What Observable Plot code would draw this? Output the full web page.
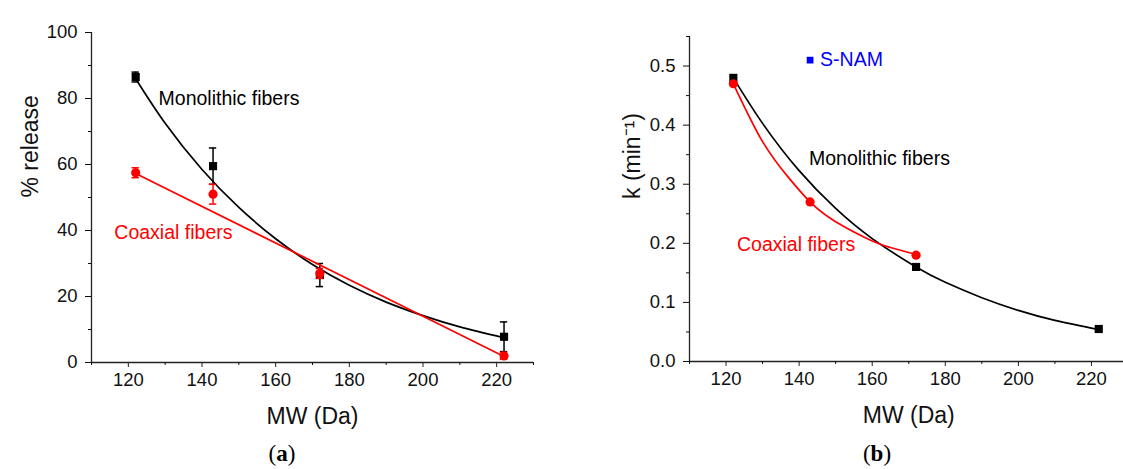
<!DOCTYPE html>
<html><head><meta charset="utf-8">
<script src="https://cdn.jsdelivr.net/npm/d3@7"></script>
<script src="https://cdn.jsdelivr.net/npm/@observablehq/plot@0.6"></script>
<style>
html,body{margin:0;padding:0;background:#fff;overflow:hidden;}
#wrap{position:relative;width:1123px;height:469px;overflow:hidden;}
.panel{position:absolute;top:0;width:560px;}
.panel svg{max-width:none !important;}
.cap{position:absolute;font-family:"Liberation Serif","DejaVu Serif",serif;font-size:23px;color:#000;transform:translateX(-50%);line-height:1;}
</style></head><body>
<div id="wrap">
  <div id="pa" class="panel" style="left:0px"></div>
  <div id="pb" class="panel" style="left:600px"></div>
  <div class="cap" style="left:282px;top:442px">(<b>a</b>)</div>
  <div class="cap" style="left:877px;top:442px">(<b>b</b>)</div>
</div>
<script>
// ---- data ----
const mw = [122, 143, 172, 222];
// panel (a): % release
const monoRelease = [86.5, 59.5, 26.5, 7.8];
const monoReleaseErr = [1.5, 5.5, 3.5, 4.5];
const coaxRelease = [57.5, 51, 27, 2];
const coaxReleaseErr = [1.5, 3, 1.5, 1];
// fitted curves of (a)
const monoFitAx = [122, 130, 140, 150, 160, 170, 180, 190, 200, 210, 222];
const monoFitAy = [86, 72.5, 58.5, 47, 37.5, 29.7, 23.4, 18.3, 14.2, 10.8, 7.5];
const coaxFitAx = [122, 222];
const coaxFitAy = [57.3, 1.8];
// panel (b): rate constant k
const monoKmw = [122, 172, 222];
const monoK = [0.48, 0.16, 0.055];
const coaxKmw = [122, 143, 172];
const coaxK = [0.47, 0.27, 0.18];
const monoFitBx = [122, 130, 140, 150, 160, 172, 180, 190, 200, 210, 222];
const monoFitBy = [0.48, 0.403, 0.323, 0.259, 0.208, 0.16, 0.134, 0.108, 0.0865, 0.0695, 0.054];
const coaxFitBx = [122, 130, 137, 143, 150, 160, 165, 172];
const coaxFitBy = [0.47, 0.372, 0.312, 0.27, 0.2365, 0.204, 0.193, 0.181];
const legendB = {mw: 143, k: 0.51, label: "S-NAM"};
// labels
const xMajor = [120, 140, 160, 180, 200, 220];
const xMinor = [110, 130, 150, 170, 190, 210, 230];
const yMajorA = [0, 20, 40, 60, 80, 100];
const yMinorA = [10, 30, 50, 70, 90];
const yMajorB = [0, 0.1, 0.2, 0.3, 0.4, 0.5];
const yMinorB = [0.05, 0.15, 0.25, 0.35, 0.45, 0.55];
const xTitle = "MW (Da)";
const yTitleA = "% release";
const yTitleB = "k (min\u207B\u00B9)";
const annA = [{x: 128.2, y: 80, t: "Monolithic fibers", c: "#000"}, {x: 116.2, y: 39.4, t: "Coaxial fibers", c: "#ff0000"}];
const annB = [{x: 142.7, y: 0.343, t: "Monolithic fibers", c: "#000"}, {x: 123, y: 0.198, t: "Coaxial fibers", c: "#ff0000"}];

const zip = (xs, ys, es) => xs.map((x, i) => ({x, y: ys[i], e: es ? es[i] : 0}));
const RED = "#ff0000", BLK = "#000";
const font = "Liberation Sans, Arial, sans-serif";

function axes(yMajor, yMinor, yFmt, yTitle, yOff) {
  return [
    Plot.ruleY([0], {stroke: "#222", strokeWidth: 1.3}),
    Plot.ruleX([110], {stroke: "#222", strokeWidth: 1.3}),
    Plot.axisX({ticks: xMajor, tickSize: 5, tickPadding: 5, label: null, fontSize: 18.5, stroke: "#222"}),
    Plot.axisX({ticks: xMinor, tickSize: 3, tickFormat: () => "", label: null}),
    Plot.axisY({ticks: yMajor, tickSize: 6, tickPadding: 8, label: null, fontSize: 18.5, tickFormat: yFmt}),
    Plot.axisY({ticks: yMinor, tickSize: 3, tickFormat: () => "", label: null}),
    Plot.text([xTitle], {frameAnchor: "bottom", lineAnchor: "top", dy: 45, fontSize: 23, fill: "#111"}),
    Plot.text([yTitle], {frameAnchor: "left", lineAnchor: "top", rotate: -90, dx: -yOff, fontSize: 23, fill: "#111"})
  ];
}

function errBars(data, color) {
  return [
    Plot.ruleX(data, {x: "x", y1: d => d.y - d.e, y2: d => d.y + d.e, stroke: color, strokeWidth: 1.5}),
    Plot.ruleY(data, {y: d => d.y + d.e, x1: d => d.x - 1, x2: d => d.x + 1, stroke: color, strokeWidth: 1.5}),
    Plot.ruleY(data, {y: d => d.y - d.e, x1: d => d.x - 1, x2: d => d.x + 1, stroke: color, strokeWidth: 1.5})
  ];
}

const monoA = zip(mw, monoRelease, monoReleaseErr);
const coaxA = zip(mw, coaxRelease, coaxReleaseErr);

const A = Plot.plot({
  width: 560, height: 469,
  marginLeft: 91, marginRight: 27, marginTop: 32, marginBottom: 107,
  style: {fontFamily: font, background: "transparent", color: "#111", overflow: "visible", maxWidth: "none"},
  x: {domain: [110, 230]},
  y: {domain: [0, 100]},
  marks: [
    ...axes(yMajorA, yMinorA, d => d, yTitleA, 70),
    Plot.line(zip(monoFitAx, monoFitAy), {x: "x", y: "y", curve: "natural", stroke: BLK, strokeWidth: 1.7}),
    ...errBars(monoA, BLK),
    Plot.dot(monoA, {x: "x", y: "y", symbol: "square", r: 4.6, fill: BLK}),
    Plot.line(zip(coaxFitAx, coaxFitAy), {x: "x", y: "y", stroke: RED, strokeWidth: 1.7}),
    ...errBars(coaxA, RED),
    Plot.dot(coaxA, {x: "x", y: "y", r: 4.6, fill: RED}),
    Plot.text(annA, {x: "x", y: "y", text: "t", fill: "c", textAnchor: "start", fontSize: 19.5})
  ]
});
document.getElementById("pa").appendChild(A);

const monoB = zip(monoKmw, monoK);
const coaxB = zip(coaxKmw, coaxK);
const B = Plot.plot({
  width: 540, height: 469,
  marginLeft: 89, marginRight: 12.5, marginTop: 36, marginBottom: 108,
  style: {fontFamily: font, background: "transparent", color: "#111", overflow: "visible", maxWidth: "none"},
  x: {domain: [110, 230]},
  y: {domain: [0, 0.55]},
  marks: [
    ...axes(yMajorB, yMinorB, d3.format(".1f"), yTitleB, 66),
    Plot.line(zip(monoFitBx, monoFitBy), {x: "x", y: "y", curve: "natural", stroke: BLK, strokeWidth: 1.7}),
    Plot.dot(monoB, {x: "x", y: "y", symbol: "square", r: 4.6, fill: BLK}),
    Plot.line(zip(coaxFitBx, coaxFitBy), {x: "x", y: "y", curve: "natural", stroke: RED, strokeWidth: 1.7}),
    Plot.dot(coaxB, {x: "x", y: "y", r: 4.6, fill: RED}),
    Plot.dot([legendB], {x: "mw", y: "k", symbol: "square", r: 3.8, fill: "#0000ff"}),
    Plot.text([legendB], {x: "mw", y: "k", text: "label", dx: 10, textAnchor: "start", fill: "#0000ff", fontSize: 19.5}),
    Plot.text(annB, {x: "x", y: "y", text: "t", fill: "c", textAnchor: "start", fontSize: 19.5})
  ]
});
document.getElementById("pb").appendChild(B);
</script>
</body></html>
